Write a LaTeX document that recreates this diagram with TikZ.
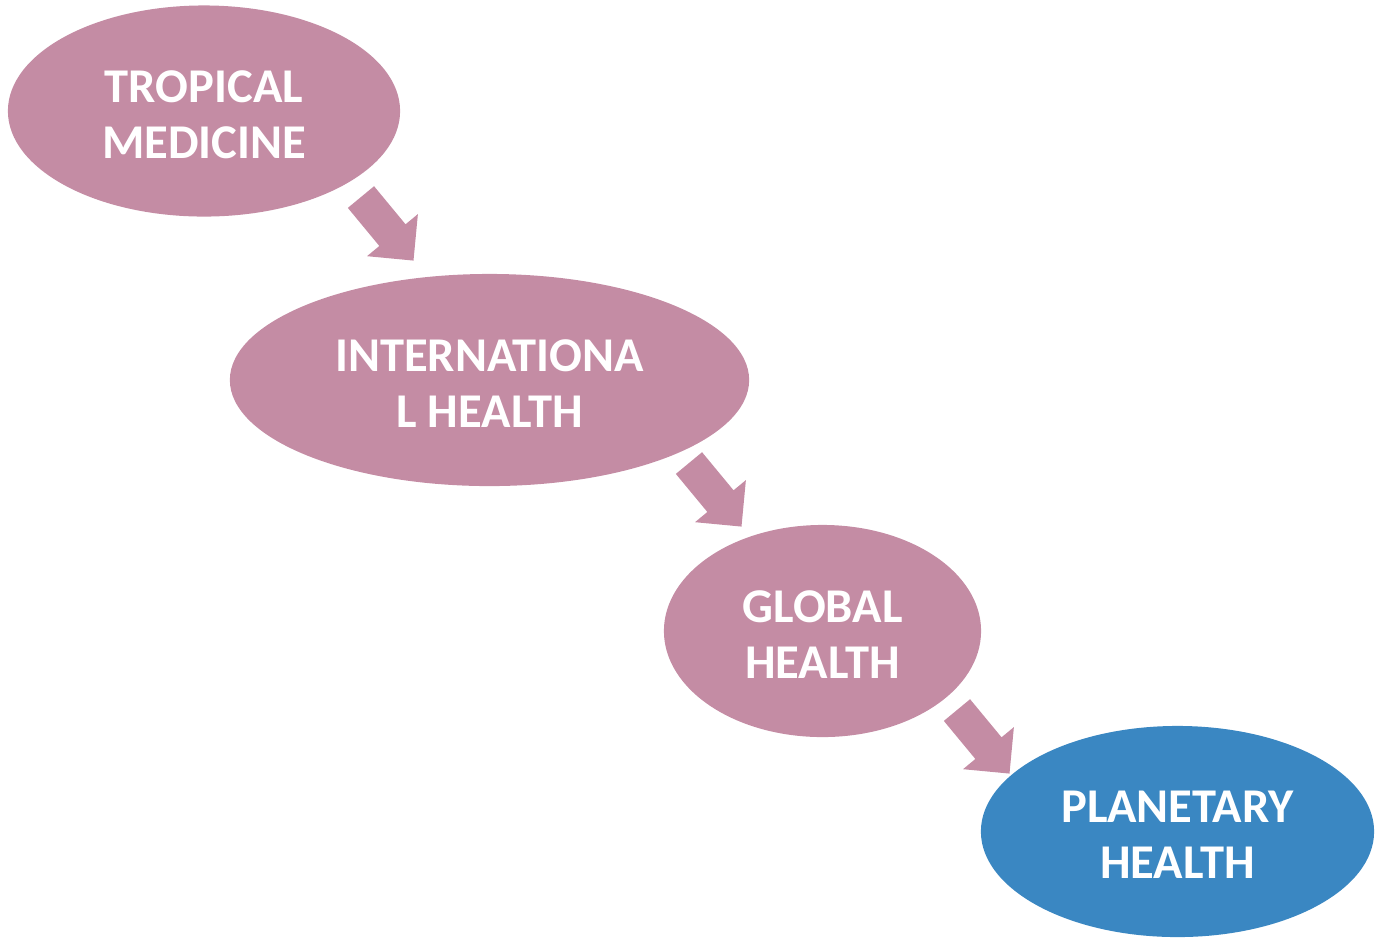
\documentclass[tikz,border=0pt]{standalone}
\usepackage{fontspec}
\setmainfont{Carlito}
\usetikzlibrary{shapes.geometric,shapes.arrows}
\definecolor{mauve}{RGB}{196,140,164}
\definecolor{planetblue}{RGB}{58,135,194}
\begin{document}
\begin{tikzpicture}[
  x=0.01cm, y=-0.01cm,
  stage/.style={ellipse, fill=mauve, inner sep=0pt, text=white, align=center,
    text height=26.9pt, text depth=0pt,
    font=\fontsize{13.8}{16}\selectfont\bfseries},
  bigarrow/.style={single arrow, fill=mauve, inner xsep=0pt, inner ysep=0.163cm,
    single arrow head extend=0.16cm, minimum height=0.824cm, rotate=-50.4, anchor=tail}]

\useasboundingbox (0,0) rectangle (1375,938);

% the four stages
\node[stage, minimum width=3.92cm, minimum height=2.11cm] (tropical) at (204,111) {TROPICAL\\MEDICINE};
\node[stage, minimum width=5.19cm, minimum height=2.12cm] (international) at (489.5,380) {INTERNATIONA\\L HEALTH};
\node[stage, minimum width=3.17cm, minimum height=2.12cm] (global) at (822.5,631) {GLOBAL\\HEALTH};
\node[stage, fill=planetblue, minimum width=3.93cm, minimum height=2.11cm] (planetary) at (1177.5,831.5) {PLANETARY\\HEALTH};

% block arrows between stages
\node[bigarrow] (step1) at (360.5,196.5) {};
\node[bigarrow] (step2) at (688.5,462.5) {};
\node[bigarrow] (step3) at (956.5,709.5) {};

\end{tikzpicture}
\end{document}
